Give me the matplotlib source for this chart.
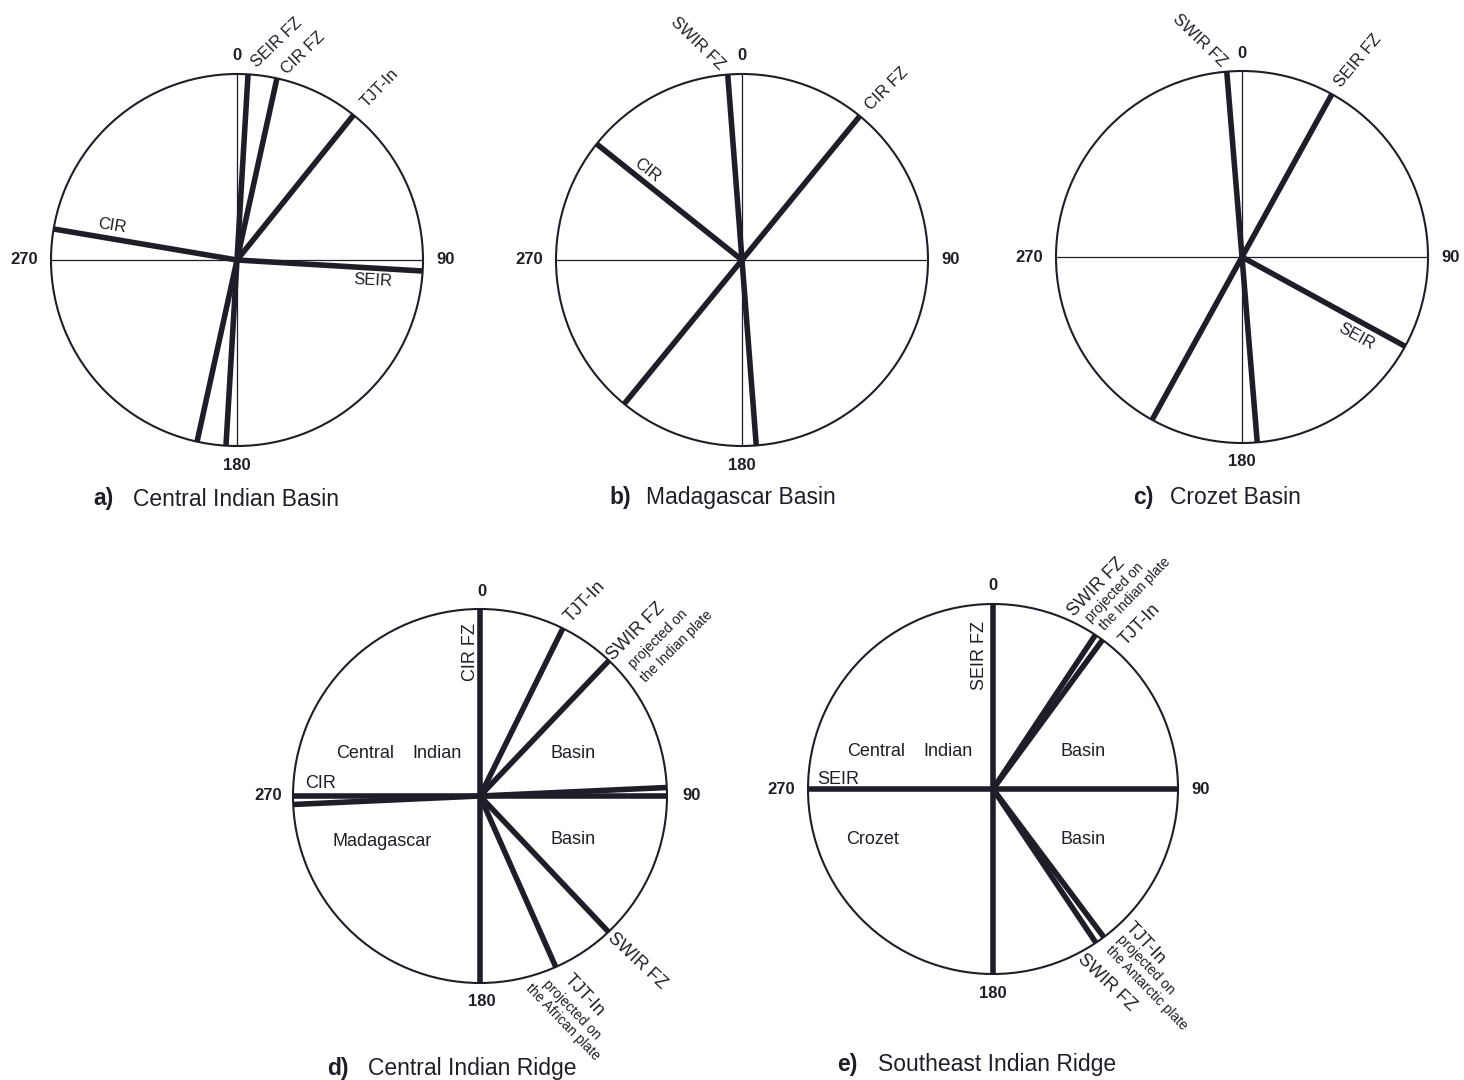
import numpy as np
import matplotlib
matplotlib.use("Agg")
import matplotlib.pyplot as plt

plt.rcParams['font.family'] = ['Liberation Sans', 'DejaVu Sans']

# ---- azimuths (degrees clockwise from north) of the structural trends ----
# a) Central Indian Basin: SEIR FZ, CIR FZ, TJT-In, CIR, SEIR
cib_azimuth = [3.4, 12.4, 38.8, 279.6, 93.4]
cib_full = [True, True, False, False, False]
# b) Madagascar Basin: SWIR FZ, CIR FZ, CIR
mb_azimuth = [355.6, 39.3, 308.6]
mb_full = [True, True, False]
# c) Crozet Basin: SWIR FZ, SEIR FZ, SEIR
cb_azimuth = [355.3, 28.9, 118.7]
cb_full = [True, True, False]
# d) Central Indian Ridge: CIR FZ, TJT-In, SWIR FZ (Indian), SWIR FZ, TJT-In (African), CIR, CIR
cir_azimuth = [0.0, 26.3, 43.6, 136.6, 156.1, 90.0, 87.4]
cir_full = [True, False, False, False, False, True, True]
# e) Southeast Indian Ridge: SEIR FZ, SEIR, SWIR FZ (Indian), TJT-In, TJT-In (Antarctic), SWIR FZ
seir_azimuth = [0.0, 90.0, 33.6, 36.3, 143.2, 146.2]
seir_full = [True, True, False, False, False, False]

compass_ticks = ["0", "90", "180", "270"]

W, H = 1464, 1080
fig = plt.figure(figsize=(W / 100, H / 100), dpi=100)
fig.patch.set_facecolor("white")

INK = "#1e1e28"


def rose(cx, cy, r, azimuths, full, show_axes=True):
    ax = fig.add_axes([(cx - r) / W, (H - cy - r) / H, 2 * r / W, 2 * r / H],
                      projection="polar")
    ax.set_theta_zero_location("N")
    ax.set_theta_direction(-1)
    ax.set_ylim(0, 1)
    ax.grid(False)
    ax.set_xticks([])
    ax.set_yticks([])
    ax.spines["polar"].set_linewidth(1.5)
    ax.spines["polar"].set_color(INK)
    if show_axes:
        for t in (0, 90, 180, 270):
            ax.plot([np.radians(t)] * 2, [0, 1], color=INK, lw=0.9,
                    solid_capstyle="butt")
    for az, f in zip(azimuths, full):
        ends = [az, az + 180] if f else [az]
        for a in ends:
            ax.plot([np.radians(a)] * 2, [0, 1], color=INK, lw=4.0,
                    solid_capstyle="butt")
    return ax


def label(x, y, s, size=12, rot=0, weight="normal", ha="center", va="center"):
    fig.text(x / W, 1 - y / H, s, fontsize=size, rotation=rot,
             fontweight=weight, ha=ha, va=va, color=INK,
             rotation_mode="anchor")


def ticks(cx, cy, r, dy_top=18, dy_bot=19, dx=23):
    label(cx, cy - r - dy_top, compass_ticks[0], size=12, weight="bold")
    label(cx + r + dx, cy, compass_ticks[1], size=12, weight="bold")
    label(cx, cy + r + dy_bot, compass_ticks[2], size=12, weight="bold")
    label(cx - r - dx - 4, cy, compass_ticks[3], size=12, weight="bold")


def title(x_letter, x_name, y, letter, name):
    label(x_letter, y, letter, size=16.5, weight="bold", ha="left")
    label(x_name, y, name, size=16.5, ha="left")


# a) Central Indian Basin
rose(237, 260, 186, cib_azimuth, cib_full)
ticks(237, 260, 186)
label(277, 43, "SEIR FZ", rot=44)
label(303, 53, "CIR FZ", rot=44)
label(380, 88, "TJT-In", rot=46)
label(112, 226, "CIR", rot=-9)
label(373, 281, "SEIR", rot=-3)
title(93, 133, 499, "a)", "Central Indian Basin")

# b) Madagascar Basin
rose(742, 260, 186, mb_azimuth, mb_full)
ticks(742, 260, 186)
label(698, 43, "SWIR FZ", rot=-44)
label(887, 89, "CIR FZ", rot=45)
label(647, 170, "CIR", rot=-38)
title(609, 646, 497, "b)", "Madagascar Basin")

# c) Crozet Basin
rose(1242, 257, 186, cb_azimuth, cb_full)
ticks(1242, 257, 186)
label(1200, 40, "SWIR FZ", rot=-44)
label(1358, 61, "SEIR FZ", rot=50)
label(1356, 336, "SEIR", rot=-29)
title(1133, 1170, 497, "c)", "Crozet Basin")

# d) Central Indian Ridge
rose(480, 796, 187, cir_azimuth, cir_full)
ticks(482, 796, 187)
label(470, 652, "CIR FZ", size=13, rot=90)
label(585, 602, "TJT-In", size=13, rot=46)
label(636, 632, "SWIR FZ", size=13, rot=45)
label(658, 639, "projected on", size=10, rot=45)
label(677, 646, "the Indian plate", size=10, rot=45)
label(365, 753, "Central", size=13)
label(437, 753, "Indian", size=13)
label(573, 753, "Basin", size=13)
label(321, 783, "CIR", size=13)
label(382, 841, "Madagascar", size=13)
label(573, 840, "Basin", size=13)
label(637, 961, "SWIR FZ", size=13, rot=-43)
label(584, 995, "TJT-In", size=13, rot=-47)
label(572, 1010, "projected on", size=10, rot=-46)
label(563, 1022, "the African plate", size=10, rot=-46)
title(327, 368, 1068, "d)", "Central Indian Ridge")

# e) Southeast Indian Ridge
rose(993, 789, 185, seir_azimuth, seir_full)
ticks(993, 789, 185)
label(980, 655, "SEIR FZ", size=13, rot=90)
label(1097, 587, "SWIR FZ", size=13, rot=46)
label(1115, 593, "projected on", size=10, rot=46)
label(1135, 594, "the Indian plate", size=10, rot=46)
label(1140, 625, "TJT-In", size=13, rot=46)
label(876, 752, "Central", size=13)
label(948, 752, "Indian", size=13)
label(1083, 752, "Basin", size=13)
label(838, 779, "SEIR", size=13)
label(873, 840, "Crozet", size=13)
label(1083, 840, "Basin", size=13)
label(1145, 943, "TJT-In", size=13, rot=-47)
label(1146, 965, "projected on", size=10, rot=-46)
label(1147, 988, "the Antarctic plate", size=10, rot=-46)
label(1107, 983, "SWIR FZ", size=13, rot=-44)
title(837, 878, 1064, "e)", "Southeast Indian Ridge")

fig.savefig("out.png", dpi=100, facecolor="white")
